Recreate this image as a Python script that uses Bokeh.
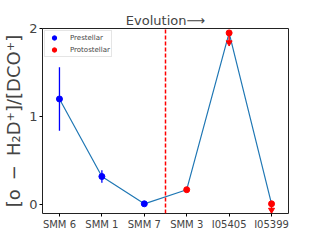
from bokeh.plotting import figure
from bokeh.models import Range1d, FixedTicker, Legend, LegendItem
from bokeh.embed import file_html
from bokeh.resources import INLINE

sources = ["SMM 6", "SMM 1", "SMM 7", "SMM 3", "I05405", "I05399"]
ratio = [1.20, 0.32, 0.01, 0.17, 1.95, 0.01]
err = [0.36, 0.07, 0.0, 0.02, 0.0, 0.0]
uplim_len = [0.0, 0.0, 0.0, 0.0, 0.11, 0.07]
kind = ["Prestellar", "Prestellar", "Prestellar", "Protostellar", "Protostellar", "Protostellar"]
colors = {"Prestellar": "#0000ff", "Protostellar": "#ff0000"}
stage_boundary = 2.5
y_lo, y_hi = -0.1, 2.0

FONT = "DejaVu Sans"
xs = list(range(len(sources)))

p = figure(width=312, height=232, output_backend="svg", toolbar_location=None,
           x_range=Range1d(-0.4, 5.4), y_range=Range1d(y_lo, y_hi),
           min_border_left=40, min_border_right=24, min_border_top=28, min_border_bottom=19)
p.title.text = "Evolution\u27f6"
p.title.align = "center"
p.title.text_font = FONT
p.title.text_font_style = "normal"
p.title.text_font_size = "13px"
p.title.offset = 0
p.title.standoff = 1

p.xgrid.visible = False
p.ygrid.visible = False
p.outline_line_color = "#222222"
p.outline_line_width = 1

p.xaxis.ticker = FixedTicker(ticks=xs)
p.xaxis.major_label_overrides = {i: s for i, s in enumerate(sources)}
p.yaxis.ticker = FixedTicker(ticks=[0, 1, 2])
for ax in (p.xaxis[0], p.yaxis[0]):
    ax.axis_line_color = None
    ax.minor_tick_line_color = None
    ax.major_tick_in = 0
    ax.major_tick_out = 3
    ax.major_label_text_font = FONT
    ax.major_label_standoff = 2
p.xaxis.major_label_text_font_size = "10px"
p.yaxis.major_label_text_font_size = "13px"
p.yaxis.axis_label = "[o\u2002\u2212\u2002H\u2082D\u207a]/[DCO\u207a]"
p.yaxis.axis_label_text_font = FONT
p.yaxis.axis_label_text_font_style = "normal"
p.yaxis.axis_label_text_font_size = "18px"
p.yaxis.axis_label_standoff = 2

# connecting line
p.line(xs, ratio, line_color="#1f77b4", line_width=1.2)

# vertical dashed line separating stages
p.segment(x0=[stage_boundary], y0=[y_lo], x1=[stage_boundary], y1=[y_hi],
          line_color="#ff0000", line_dash="4 2", line_width=1.5)

items = []
for k in ["Prestellar", "Protostellar"]:
    idx = [i for i in xs if kind[i] == k]
    cx = [xs[i] for i in idx]
    cy = [ratio[i] for i in idx]
    lo = [ratio[i] - err[i] for i in idx]
    hi = [ratio[i] + err[i] for i in idx]
    c = colors[k]
    p.segment(x0=cx, y0=lo, x1=cx, y1=hi, line_color=c, line_width=1.3)
    sc = p.scatter(cx, cy, size=6, color=c)
    # upper limits
    ux = [xs[i] for i in idx if uplim_len[i] > 0]
    uy = [ratio[i] for i in idx if uplim_len[i] > 0]
    ue = [ratio[i] - uplim_len[i] for i in idx if uplim_len[i] > 0]
    if ux:
        p.segment(x0=ux, y0=uy, x1=ux, y1=ue, line_color=c, line_width=1.5)
        p.scatter(ux, ue, marker="inverted_triangle", size=6, color=c)
    items.append(LegendItem(label=k, renderers=[sc]))

legend = Legend(items=items, location="top_left")
legend.label_text_font = FONT
legend.label_text_font_size = "7px"
legend.glyph_height = 11
legend.glyph_width = 16
legend.label_height = 9
legend.spacing = 1
legend.padding = 1
legend.margin = 2
legend.label_standoff = 8
legend.border_line_color = "#cccccc"
legend.border_line_width = 1
p.add_layout(legend)

open("out.html", "w").write(file_html(p, INLINE))
